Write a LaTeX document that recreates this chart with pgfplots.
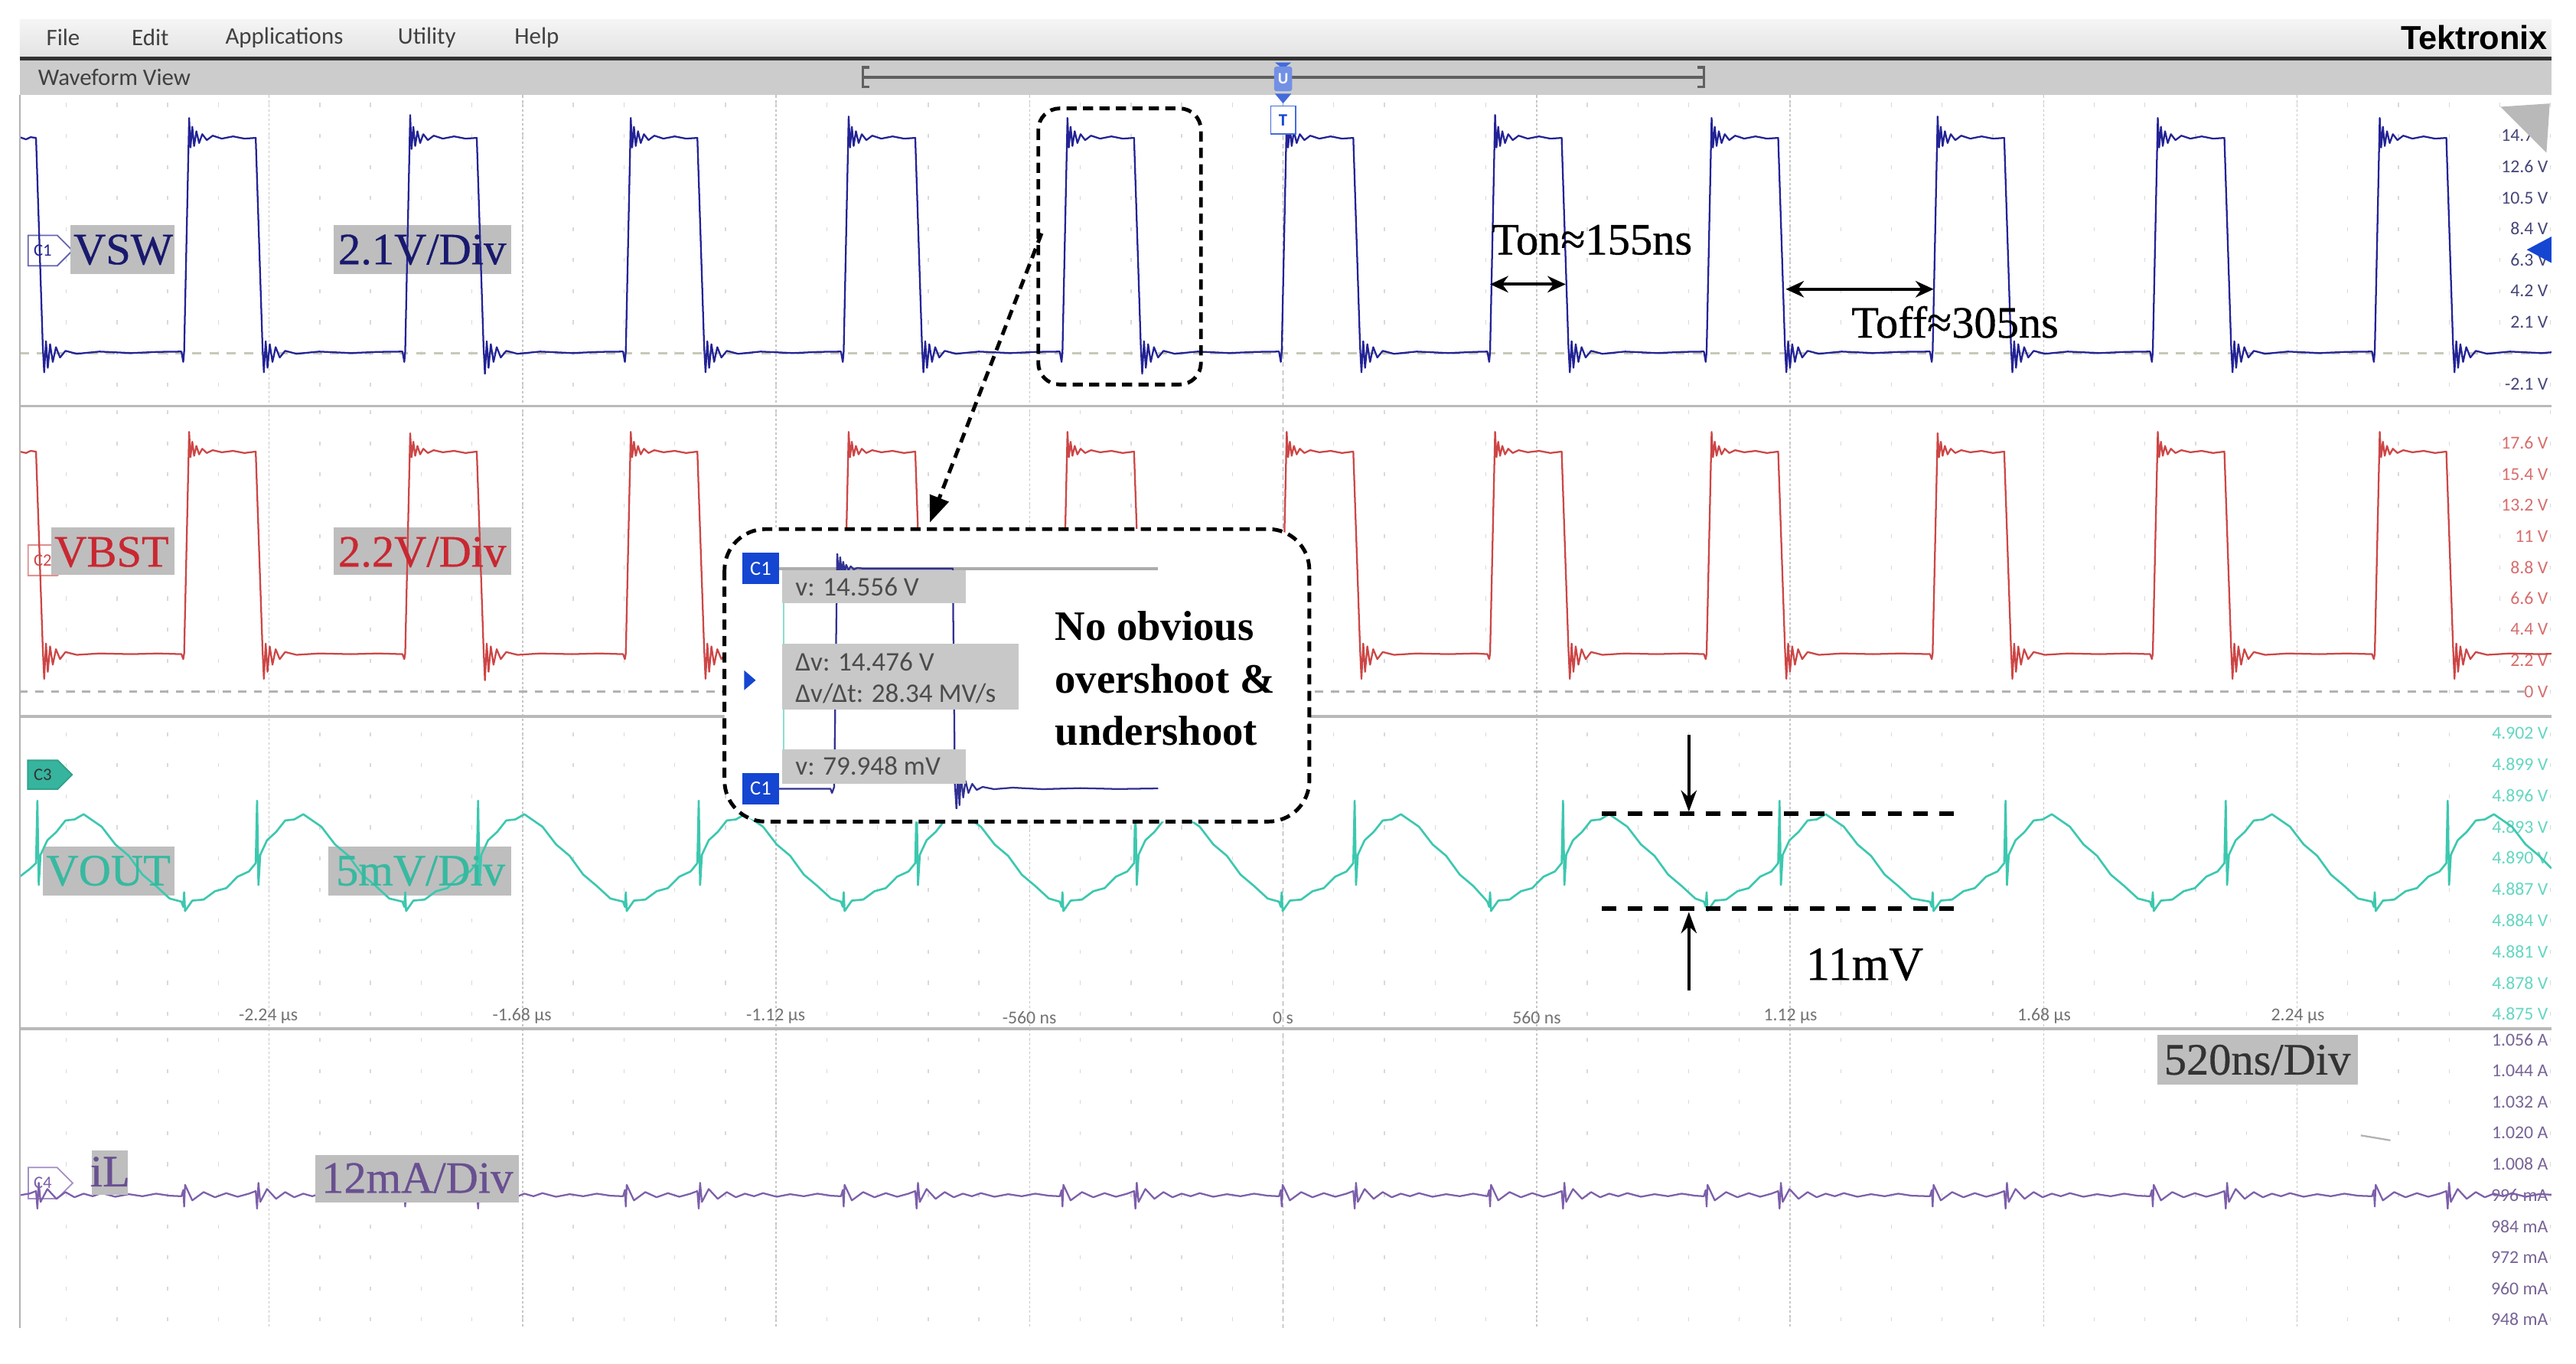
\documentclass[border=0pt]{standalone}
\usepackage{fontspec}
\setmainfont{Liberation Serif}
\newfontfamily\lblserif[FakeBold=0.6]{Liberation Serif}
\newfontfamily\uifont{Carlito}
\newfontfamily\logofont{Liberation Sans}
\usepackage{pgfplots}
\pgfplotsset{compat=1.18}
\usepackage{pgfplotstable}
\usetikzlibrary{arrows.meta,shapes.symbols}

\definecolor{vsw}{RGB}{35,35,150}
\definecolor{vbst}{RGB}{205,70,70}
\definecolor{vout}{RGB}{60,200,175}
\definecolor{ilc}{RGB}{125,95,170}
\definecolor{vswtxt}{RGB}{25,25,110}
\definecolor{vbsttxt}{RGB}{200,40,50}
\definecolor{vouttxt}{RGB}{55,185,160}
\definecolor{iltxt}{RGB}{105,80,145}
\definecolor{vswtick}{RGB}{70,70,120}
\definecolor{vbsttick}{RGB}{215,110,110}
\definecolor{vouttick}{RGB}{100,215,195}
\definecolor{iltick}{RGB}{120,100,150}
\definecolor{lblbox}{RGB}{190,190,190}
\definecolor{viewbar}{RGB}{204,204,204}
\definecolor{tkblue}{RGB}{20,70,210}
\definecolor{zeroln}{RGB}{200,200,185}

\newcommand{\lblfont}{\lblserif\fontsize{15.5}{18}\selectfont}
\newcommand{\tickfont}{\uifont\fontsize{6.3}{7}\selectfont}
\newcommand{\menufont}{\uifont\fontsize{8.2}{9}\selectfont}

% switch node, boost node (time in ns, volts)
\pgfplotstableread[row sep=\\]{
t vsw vbst\\
-2789 14.6 17.0\\ -2775 14.45 16.9\\ -2765 14.6 17.05\\ -2753 14.55 17.0\\
-2738 0.4 3.0\\ -2735 -1.3 0.9\\ -2731 0.8 3.4\\ -2727 -1.0 1.4\\ -2722 0.6 3.2\\ -2716 -0.6 1.9\\
-2709 0.4 3.0\\ -2700 -0.3 2.3\\ -2688 0.15 2.8\\ -2663 -0.05 2.6\\ -2613 0.1 2.7\\ -2543 0.0 2.65\\ -2483 0.08 2.7\\
-2432 0.1 2.65\\ -2428 -0.6 2.3\\ -2426 0.1 2.7\\ -2415 15.9 18.4\\ -2412 13.9 16.6\\ -2408 15.3 17.7\\ -2404 14.0 16.7\\ -2399 15.0 17.4\\ -2393 14.2 16.8\\ -2386 14.8 17.2\\ -2376 14.4 16.9\\ -2363 14.7 17.1\\ -2343 14.5 16.95\\ -2318 14.65 17.05\\ -2293 14.5 16.9\\ -2268 14.55 17.0\\ -2253 0.4 3.0\\ -2250 -1.3 0.9\\ -2246 0.8 3.4\\ -2242 -1.0 1.4\\ -2237 0.6 3.2\\ -2231 -0.6 1.9\\ -2224 0.4 3.0\\ -2215 -0.3 2.3\\ -2203 0.15 2.8\\ -2178 -0.05 2.6\\ -2128 0.1 2.7\\ -2058 0.0 2.65\\ -1998 0.08 2.7\\
-1944 0.1 2.65\\ -1940 -0.6 2.3\\ -1938 0.1 2.7\\ -1927 16.1 18.3\\ -1924 13.8 16.6\\ -1920 15.3 17.7\\ -1916 14.0 16.7\\ -1911 15.0 17.4\\ -1905 14.2 16.8\\ -1898 14.8 17.2\\ -1888 14.4 16.9\\ -1875 14.7 17.1\\ -1855 14.5 16.95\\ -1830 14.65 17.05\\ -1805 14.5 16.9\\ -1780 14.55 17.0\\ -1765 0.4 3.0\\ -1762 -1.4 0.8\\ -1758 0.8 3.4\\ -1754 -1.0 1.4\\ -1749 0.6 3.2\\ -1743 -0.6 1.9\\ -1736 0.4 3.0\\ -1727 -0.3 2.3\\ -1715 0.15 2.8\\ -1690 -0.05 2.6\\ -1640 0.1 2.7\\ -1570 0.0 2.65\\ -1510 0.08 2.7\\
-1457 0.1 2.65\\ -1453 -0.6 2.3\\ -1451 0.1 2.7\\ -1440 15.9 18.4\\ -1437 13.9 16.6\\ -1433 15.3 17.7\\ -1429 14.0 16.7\\ -1424 15.0 17.4\\ -1418 14.2 16.8\\ -1411 14.8 17.2\\ -1401 14.4 16.9\\ -1388 14.7 17.1\\ -1368 14.5 16.95\\ -1343 14.65 17.05\\ -1318 14.5 16.9\\ -1293 14.55 17.0\\ -1278 0.4 3.0\\ -1275 -1.3 0.9\\ -1271 0.8 3.4\\ -1267 -1.0 1.4\\ -1262 0.6 3.2\\ -1256 -0.6 1.9\\ -1249 0.4 3.0\\ -1240 -0.3 2.3\\ -1228 0.15 2.8\\ -1203 -0.05 2.6\\ -1153 0.1 2.7\\ -1083 0.0 2.65\\ -1023 0.08 2.7\\
-976 0.1 2.65\\ -972 -0.6 2.3\\ -970 0.1 2.7\\ -959 16.0 18.4\\ -956 13.9 16.6\\ -952 15.3 17.7\\ -948 14.0 16.7\\ -943 15.0 17.4\\ -937 14.2 16.8\\ -930 14.8 17.2\\ -920 14.4 16.9\\ -907 14.7 17.1\\ -887 14.5 16.95\\ -862 14.65 17.05\\ -837 14.5 16.9\\ -812 14.55 17.0\\ -797 0.4 3.0\\ -794 -1.3 0.9\\ -790 0.8 3.4\\ -786 -1.0 1.4\\ -781 0.6 3.2\\ -775 -0.6 1.9\\ -768 0.4 3.0\\ -759 -0.3 2.3\\ -747 0.15 2.8\\ -722 -0.05 2.6\\ -672 0.1 2.7\\ -602 0.0 2.65\\ -542 0.08 2.7\\
-493 0.1 2.65\\ -489 -0.6 2.3\\ -487 0.1 2.7\\ -476 15.9 18.4\\ -473 13.9 16.6\\ -469 15.3 17.7\\ -465 14.0 16.7\\ -460 15.0 17.4\\ -454 14.2 16.8\\ -447 14.8 17.2\\ -437 14.4 16.9\\ -424 14.7 17.1\\ -404 14.5 16.95\\ -379 14.65 17.05\\ -354 14.5 16.9\\ -329 14.55 17.0\\ -314 0.4 3.0\\ -311 -1.4 0.9\\ -307 0.8 3.4\\ -303 -1.0 1.4\\ -298 0.6 3.2\\ -292 -0.6 1.9\\ -285 0.4 3.0\\ -276 -0.3 2.3\\ -264 0.15 2.8\\ -239 -0.05 2.6\\ -189 0.1 2.7\\ -119 0.0 2.65\\ -59 0.08 2.7\\
-9 0.1 2.65\\ -5 -0.6 2.3\\ -3 0.1 2.7\\ 8 15.9 18.4\\ 11 13.9 16.6\\ 15 15.3 17.7\\ 19 14.0 16.7\\ 24 15.0 17.4\\ 30 14.2 16.8\\ 37 14.8 17.2\\ 47 14.4 16.9\\ 60 14.7 17.1\\ 80 14.5 16.95\\ 105 14.65 17.05\\ 130 14.5 16.9\\ 155 14.55 17.0\\ 170 0.4 3.0\\ 173 -1.3 0.9\\ 177 0.8 3.4\\ 181 -1.0 1.4\\ 186 0.6 3.2\\ 192 -0.6 1.9\\ 199 0.4 3.0\\ 208 -0.3 2.3\\ 220 0.15 2.8\\ 245 -0.05 2.6\\ 295 0.1 2.7\\ 365 0.0 2.65\\ 425 0.08 2.7\\
451 0.1 2.65\\ 455 -0.6 2.3\\ 457 0.1 2.7\\ 468 16.1 18.4\\ 471 13.9 16.6\\ 475 15.3 17.7\\ 479 14.0 16.7\\ 484 15.0 17.4\\ 490 14.2 16.8\\ 497 14.8 17.2\\ 507 14.4 16.9\\ 520 14.7 17.1\\ 540 14.5 16.95\\ 565 14.65 17.05\\ 590 14.5 16.9\\ 615 14.55 17.0\\ 630 0.4 3.0\\ 633 -1.3 0.9\\ 637 0.8 3.4\\ 641 -1.0 1.4\\ 646 0.6 3.2\\ 652 -0.6 1.9\\ 659 0.4 3.0\\ 668 -0.3 2.3\\ 680 0.15 2.8\\ 705 -0.05 2.6\\ 755 0.1 2.7\\ 825 0.0 2.65\\ 885 0.08 2.7\\
929 0.1 2.65\\ 933 -0.6 2.3\\ 935 0.1 2.7\\ 946 15.9 18.4\\ 949 13.9 16.6\\ 953 15.3 17.7\\ 957 14.0 16.7\\ 962 15.0 17.4\\ 968 14.2 16.8\\ 975 14.8 17.2\\ 985 14.4 16.9\\ 998 14.7 17.1\\ 1018 14.5 16.95\\ 1043 14.65 17.05\\ 1068 14.5 16.9\\ 1093 14.55 17.0\\ 1108 0.4 3.0\\ 1111 -1.3 0.9\\ 1115 0.8 3.4\\ 1119 -1.0 1.4\\ 1124 0.6 3.2\\ 1130 -0.6 1.9\\ 1137 0.4 3.0\\ 1146 -0.3 2.3\\ 1158 0.15 2.8\\ 1183 -0.05 2.6\\ 1233 0.1 2.7\\ 1303 0.0 2.65\\ 1363 0.08 2.7\\
1428 0.1 2.65\\ 1432 -0.6 2.3\\ 1434 0.1 2.7\\ 1445 16.0 18.3\\ 1448 13.9 16.6\\ 1452 15.3 17.7\\ 1456 14.0 16.7\\ 1461 15.0 17.4\\ 1467 14.2 16.8\\ 1474 14.8 17.2\\ 1484 14.4 16.9\\ 1497 14.7 17.1\\ 1517 14.5 16.95\\ 1542 14.65 17.05\\ 1567 14.5 16.9\\ 1592 14.55 17.0\\ 1607 0.4 3.0\\ 1610 -1.3 0.9\\ 1614 0.8 3.4\\ 1618 -1.0 1.4\\ 1623 0.6 3.2\\ 1629 -0.6 1.9\\ 1636 0.4 3.0\\ 1645 -0.3 2.3\\ 1657 0.15 2.8\\ 1682 -0.05 2.6\\ 1732 0.1 2.7\\ 1802 0.0 2.65\\ 1862 0.08 2.7\\
1914 0.1 2.65\\ 1918 -0.6 2.3\\ 1920 0.1 2.7\\ 1931 15.9 18.4\\ 1934 13.9 16.6\\ 1938 15.3 17.7\\ 1942 14.0 16.7\\ 1947 15.0 17.4\\ 1953 14.2 16.8\\ 1960 14.8 17.2\\ 1970 14.4 16.9\\ 1983 14.7 17.1\\ 2003 14.5 16.95\\ 2028 14.65 17.05\\ 2053 14.5 16.9\\ 2078 14.55 17.0\\ 2093 0.4 3.0\\ 2096 -1.3 0.9\\ 2100 0.8 3.4\\ 2104 -1.0 1.4\\ 2109 0.6 3.2\\ 2115 -0.6 1.9\\ 2122 0.4 3.0\\ 2131 -0.3 2.3\\ 2143 0.15 2.8\\ 2168 -0.05 2.6\\ 2218 0.1 2.7\\ 2288 0.0 2.65\\ 2348 0.08 2.7\\
2404 0.1 2.65\\ 2408 -0.6 2.3\\ 2410 0.1 2.7\\ 2421 15.9 18.4\\ 2424 13.9 16.6\\ 2428 15.3 17.7\\ 2432 14.0 16.7\\ 2437 15.0 17.4\\ 2443 14.2 16.8\\ 2450 14.8 17.2\\ 2460 14.4 16.9\\ 2473 14.7 17.1\\ 2493 14.5 16.95\\ 2518 14.65 17.05\\ 2543 14.5 16.9\\ 2568 14.55 17.0\\ 2583 0.4 3.0\\ 2586 -1.3 0.9\\ 2590 0.8 3.4\\ 2594 -1.0 1.4\\ 2599 0.6 3.2\\ 2605 -0.6 1.9\\ 2612 0.4 3.0\\ 2621 -0.3 2.3\\ 2633 0.15 2.8\\ 2658 -0.05 2.6\\ 2708 0.1 2.7\\ 2778 0.0 2.65\\ 2800 0.05 2.68\\
}\tabA

% output voltage (V) and inductor current (A)
\pgfplotstableread[row sep=\\]{
t vout il\\
-2789 4.8882 0.9960\\ -2768 4.8889 0.9966\\ -2753 4.8895 0.9976\\ -2750 4.8955 0.9908\\ -2747 4.8874 1.0008\\ -2743 4.8903 0.9934\\
-2728 4.8917 0.9984\\ -2708 4.8925 0.9946\\ -2688 4.8936 0.9972\\ -2668 4.8937 0.9952\\ -2648 4.8942 0.9966\\ -2628 4.8936 0.9956\\
-2608 4.8930 0.9968\\ -2578 4.8913 0.9954\\ -2548 4.8902 0.9964\\ -2518 4.8884 0.9956\\ -2488 4.8873 0.9966\\ -2458 4.8861 0.9958\\
-2432 4.8858 0.9956\\ -2428 4.8853 0.9980\\ -2426 4.8867 0.9916\\ -2424 4.8849 1.0000\\ -2408 4.8859 0.9940\\ -2383 4.8860 0.9972\\ -2358 4.8868 0.9952\\ -2333 4.8871 0.9968\\ -2308 4.8882 0.9954\\ -2283 4.8887 0.9966\\ -2268 4.8895 0.9976\\ -2265 4.8955 0.9908\\ -2262 4.8874 1.0008\\ -2258 4.8903 0.9934\\ -2243 4.8917 0.9984\\ -2223 4.8925 0.9946\\ -2203 4.8936 0.9972\\ -2183 4.8937 0.9952\\ -2163 4.8942 0.9966\\ -2143 4.8936 0.9956\\ -2123 4.8930 0.9968\\ -2093 4.8913 0.9954\\ -2063 4.8902 0.9964\\ -2033 4.8884 0.9956\\ -2003 4.8873 0.9966\\ -1973 4.8861 0.9958\\
-1944 4.8858 0.9956\\ -1940 4.8853 0.9980\\ -1938 4.8867 0.9916\\ -1936 4.8849 1.0000\\ -1920 4.8859 0.9940\\ -1895 4.8860 0.9972\\ -1870 4.8868 0.9952\\ -1845 4.8871 0.9968\\ -1820 4.8882 0.9954\\ -1795 4.8887 0.9966\\ -1780 4.8895 0.9976\\ -1777 4.8955 0.9908\\ -1774 4.8874 1.0008\\ -1770 4.8903 0.9934\\ -1755 4.8917 0.9984\\ -1735 4.8925 0.9946\\ -1715 4.8936 0.9972\\ -1695 4.8937 0.9952\\ -1675 4.8942 0.9966\\ -1655 4.8936 0.9956\\ -1635 4.8930 0.9968\\ -1605 4.8913 0.9954\\ -1575 4.8902 0.9964\\ -1545 4.8884 0.9956\\ -1515 4.8873 0.9966\\ -1485 4.8861 0.9958\\
-1457 4.8858 0.9956\\ -1453 4.8853 0.9980\\ -1451 4.8867 0.9916\\ -1449 4.8849 1.0000\\ -1433 4.8859 0.9940\\ -1408 4.8860 0.9972\\ -1383 4.8868 0.9952\\ -1358 4.8871 0.9968\\ -1333 4.8882 0.9954\\ -1308 4.8887 0.9966\\ -1293 4.8895 0.9976\\ -1290 4.8955 0.9908\\ -1287 4.8874 1.0008\\ -1283 4.8903 0.9934\\ -1268 4.8917 0.9984\\ -1248 4.8925 0.9946\\ -1228 4.8936 0.9972\\ -1208 4.8937 0.9952\\ -1188 4.8942 0.9966\\ -1168 4.8936 0.9956\\ -1148 4.8930 0.9968\\ -1118 4.8913 0.9954\\ -1088 4.8902 0.9964\\ -1058 4.8884 0.9956\\ -1028 4.8873 0.9966\\ -998 4.8861 0.9958\\
-976 4.8858 0.9956\\ -972 4.8853 0.9980\\ -970 4.8867 0.9916\\ -968 4.8849 1.0000\\ -952 4.8859 0.9940\\ -927 4.8860 0.9972\\ -902 4.8868 0.9952\\ -877 4.8871 0.9968\\ -852 4.8882 0.9954\\ -827 4.8887 0.9966\\ -812 4.8895 0.9976\\ -809 4.8955 0.9908\\ -806 4.8874 1.0008\\ -802 4.8903 0.9934\\ -787 4.8917 0.9984\\ -767 4.8925 0.9946\\ -747 4.8936 0.9972\\ -727 4.8937 0.9952\\ -707 4.8942 0.9966\\ -687 4.8936 0.9956\\ -667 4.8930 0.9968\\ -637 4.8913 0.9954\\ -607 4.8902 0.9964\\ -577 4.8884 0.9956\\ -547 4.8873 0.9966\\ -517 4.8861 0.9958\\
-493 4.8858 0.9956\\ -489 4.8853 0.9980\\ -487 4.8867 0.9916\\ -485 4.8849 1.0000\\ -469 4.8859 0.9940\\ -444 4.8860 0.9972\\ -419 4.8868 0.9952\\ -394 4.8871 0.9968\\ -369 4.8882 0.9954\\ -344 4.8887 0.9966\\ -329 4.8895 0.9976\\ -326 4.8955 0.9908\\ -323 4.8874 1.0008\\ -319 4.8903 0.9934\\ -304 4.8917 0.9984\\ -284 4.8925 0.9946\\ -264 4.8936 0.9972\\ -244 4.8937 0.9952\\ -224 4.8942 0.9966\\ -204 4.8936 0.9956\\ -184 4.8930 0.9968\\ -154 4.8913 0.9954\\ -124 4.8902 0.9964\\ -94 4.8884 0.9956\\ -64 4.8873 0.9966\\ -34 4.8861 0.9958\\
-9 4.8858 0.9956\\ -5 4.8853 0.9980\\ -3 4.8867 0.9916\\ -1 4.8849 1.0000\\ 15 4.8859 0.9940\\ 40 4.8860 0.9972\\ 65 4.8868 0.9952\\ 90 4.8871 0.9968\\ 115 4.8882 0.9954\\ 140 4.8887 0.9966\\ 155 4.8895 0.9976\\ 158 4.8955 0.9908\\ 161 4.8874 1.0008\\ 165 4.8903 0.9934\\ 180 4.8917 0.9984\\ 200 4.8925 0.9946\\ 220 4.8936 0.9972\\ 240 4.8937 0.9952\\ 260 4.8942 0.9966\\ 280 4.8936 0.9956\\ 300 4.8930 0.9968\\ 330 4.8913 0.9954\\ 360 4.8902 0.9964\\ 390 4.8884 0.9956\\ 420 4.8873 0.9966\\ 445 4.8861 0.9958\\
451 4.8858 0.9956\\ 455 4.8853 0.9980\\ 457 4.8867 0.9916\\ 459 4.8849 1.0000\\ 475 4.8859 0.9940\\ 500 4.8860 0.9972\\ 525 4.8868 0.9952\\ 550 4.8871 0.9968\\ 575 4.8882 0.9954\\ 600 4.8887 0.9966\\ 615 4.8895 0.9976\\ 618 4.8955 0.9908\\ 621 4.8874 1.0008\\ 625 4.8903 0.9934\\ 640 4.8917 0.9984\\ 660 4.8925 0.9946\\ 680 4.8936 0.9972\\ 700 4.8937 0.9952\\ 720 4.8942 0.9966\\ 740 4.8936 0.9956\\ 760 4.8930 0.9968\\ 790 4.8913 0.9954\\ 820 4.8902 0.9964\\ 850 4.8884 0.9956\\ 880 4.8873 0.9966\\ 910 4.8861 0.9958\\
929 4.8858 0.9956\\ 933 4.8853 0.9980\\ 935 4.8867 0.9916\\ 937 4.8849 1.0000\\ 953 4.8859 0.9940\\ 978 4.8860 0.9972\\ 1003 4.8868 0.9952\\ 1028 4.8871 0.9968\\ 1053 4.8882 0.9954\\ 1078 4.8887 0.9966\\ 1093 4.8895 0.9976\\ 1096 4.8955 0.9908\\ 1099 4.8874 1.0008\\ 1103 4.8903 0.9934\\ 1118 4.8917 0.9984\\ 1138 4.8925 0.9946\\ 1158 4.8936 0.9972\\ 1178 4.8937 0.9952\\ 1198 4.8942 0.9966\\ 1218 4.8936 0.9956\\ 1238 4.8930 0.9968\\ 1268 4.8913 0.9954\\ 1298 4.8902 0.9964\\ 1328 4.8884 0.9956\\ 1358 4.8873 0.9966\\ 1388 4.8861 0.9958\\
1428 4.8858 0.9956\\ 1432 4.8853 0.9980\\ 1434 4.8867 0.9916\\ 1436 4.8849 1.0000\\ 1452 4.8859 0.9940\\ 1477 4.8860 0.9972\\ 1502 4.8868 0.9952\\ 1527 4.8871 0.9968\\ 1552 4.8882 0.9954\\ 1577 4.8887 0.9966\\ 1592 4.8895 0.9976\\ 1595 4.8955 0.9908\\ 1598 4.8874 1.0008\\ 1602 4.8903 0.9934\\ 1617 4.8917 0.9984\\ 1637 4.8925 0.9946\\ 1657 4.8936 0.9972\\ 1677 4.8937 0.9952\\ 1697 4.8942 0.9966\\ 1717 4.8936 0.9956\\ 1737 4.8930 0.9968\\ 1767 4.8913 0.9954\\ 1797 4.8902 0.9964\\ 1827 4.8884 0.9956\\ 1857 4.8873 0.9966\\ 1887 4.8861 0.9958\\
1914 4.8858 0.9956\\ 1918 4.8853 0.9980\\ 1920 4.8867 0.9916\\ 1922 4.8849 1.0000\\ 1938 4.8859 0.9940\\ 1963 4.8860 0.9972\\ 1988 4.8868 0.9952\\ 2013 4.8871 0.9968\\ 2038 4.8882 0.9954\\ 2063 4.8887 0.9966\\ 2078 4.8895 0.9976\\ 2081 4.8955 0.9908\\ 2084 4.8874 1.0008\\ 2088 4.8903 0.9934\\ 2103 4.8917 0.9984\\ 2123 4.8925 0.9946\\ 2143 4.8936 0.9972\\ 2163 4.8937 0.9952\\ 2183 4.8942 0.9966\\ 2203 4.8936 0.9956\\ 2223 4.8930 0.9968\\ 2253 4.8913 0.9954\\ 2283 4.8902 0.9964\\ 2313 4.8884 0.9956\\ 2343 4.8873 0.9966\\ 2373 4.8861 0.9958\\
2404 4.8858 0.9956\\ 2408 4.8853 0.9980\\ 2410 4.8867 0.9916\\ 2412 4.8849 1.0000\\ 2428 4.8859 0.9940\\ 2453 4.8860 0.9972\\ 2478 4.8868 0.9952\\ 2503 4.8871 0.9968\\ 2528 4.8882 0.9954\\ 2553 4.8887 0.9966\\ 2568 4.8895 0.9976\\ 2571 4.8955 0.9908\\ 2574 4.8874 1.0008\\ 2578 4.8903 0.9934\\ 2593 4.8917 0.9984\\ 2613 4.8925 0.9946\\ 2633 4.8936 0.9972\\ 2653 4.8937 0.9952\\ 2673 4.8942 0.9966\\ 2693 4.8936 0.9956\\ 2713 4.8930 0.9968\\ 2743 4.8913 0.9954\\ 2773 4.8902 0.9964\\ 2800 4.8890 0.9962\\
}\tabB

\pgfplotsset{osc/.style={scale only axis, width=308.2mm, xmin=-2789, xmax=2800,
  axis line style={draw=none}, major tick length=0pt, minor tick length=0pt,
  xtick=\empty, yticklabel pos=right,
  yticklabel style={anchor=east, xshift=-0.35mm, font=\tickfont, inner sep=0pt},
  every axis plot/.append style={line join=round}, clip=true}}

\begin{document}
\begin{tikzpicture}
\begin{scope}[x=0.2mm,y=-0.2mm]
\fill[white] (0,0) rectangle (1568,830);
% window bars
\shade[top color=gray!8, bottom color=gray!22] (12,12) rectangle (1553,35);
\fill[black!80] (12,34.5) rectangle (1553,37);
\fill[viewbar] (12,37) rectangle (1553,58);
\node[anchor=west, font=\menufont, text=black!75] at (22,23) {File};
\node[anchor=west, font=\menufont, text=black!75] at (74,23) {Edit};
\node[anchor=west, font=\menufont, text=black!75] at (131,23) {Applications};
\node[anchor=west, font=\menufont, text=black!75] at (236,23) {Utility};
\node[anchor=west, font=\menufont, text=black!75] at (307,23) {Help};
\node[anchor=west, font=\menufont, text=black!75] at (17,47) {Waveform View};
\node[anchor=east, font=\logofont\bfseries\fontsize{11.5}{12}\selectfont] at (1557,23) {Tektronix};
\draw[gray!75!black, line width=1.2pt] (525,47) -- (1037,47);
\draw[gray!75!black, line width=0.8pt] (529,41) -- (525,41) -- (525,53) -- (529,53);
\draw[gray!75!black, line width=0.8pt] (1033,41) -- (1037,41) -- (1037,53) -- (1033,53);
% grid dots
\foreach \k in {-24,...,25} {
  \pgfmathsetmacro\xx{781+\k*30.86}
  \foreach \yy in {63.8,82.7,101.6,120.5,139.4,158.3,177.2,196.1,215,233.9,
                   250.9,269.8,288.7,307.6,326.5,345.4,364.3,383.2,402.1,421,
                   446.9,465.8,484.7,503.6,522.5,541.4,560.3,579.2,598.1,617,
                   632.9,651.8,670.7,689.6,708.5,727.4,746.3,765.2,784.1,803}
    {\draw[gray!30, line width=0.35pt] (\xx,\yy-1.2) -- (\xx,\yy+1.2);}
}
\foreach \k in {-4,-3,-2,-1,1,2,3,4}
  \draw[gray!45, line width=0.4pt, dash pattern=on 0.8pt off 0.8pt] ({781+\k*154.3},58) -- ({781+\k*154.3},808);
\draw[gray!70, line width=0.45pt, dash pattern=on 1.6pt off 1.2pt] (781,58) -- (781,808);
% channel tags
\node[signal, signal to=east, draw=vsw!70, fill=white, line width=0.5pt, minimum width=5.4mm, minimum height=3.7mm, inner sep=0pt, font=\uifont\fontsize{6}{6}\selectfont, text=vsw] at (26,152.5) {C1};
\node[signal, signal to=east, draw=vbst!60, fill=white, line width=0.5pt, minimum width=5.4mm, minimum height=3.7mm, inner sep=0pt, font=\uifont\fontsize{6}{6}\selectfont, text=vbst] at (26,341) {C2};
\node[signal, signal to=east, draw=vout!80!black, fill=vout!90!black, line width=0.5pt, minimum width=5.4mm, minimum height=3.5mm, inner sep=0pt, font=\uifont\fontsize{6}{6}\selectfont, text=black!80] at (26,471.5) {C3};
\node[signal, signal to=east, draw=ilc!70, fill=white, line width=0.5pt, minimum width=5.4mm, minimum height=3.8mm, inner sep=0pt, font=\uifont\fontsize{6}{6}\selectfont, text=ilc] at (26,720) {C4};
% label boxes behind traces
\fill[lblbox] (43,137) rectangle (106,167);
\fill[lblbox] (203,137) rectangle (311,167);
\fill[lblbox] (31,321) rectangle (106,350);
\fill[lblbox] (203,321) rectangle (311,350);
\fill[lblbox] (26,515) rectangle (106,545);
\fill[lblbox] (200,515) rectangle (311,545);
\fill[lblbox] (1313,630) rectangle (1435,660);
\coordinate (A1) at (12,58);
\coordinate (A2) at (12,247);
\coordinate (A3) at (12,436);
\coordinate (A4) at (12,626);
\coordinate (S) at (474,337);
\end{scope}

% C1 VSW
\begin{axis}[osc, at={(A1)}, anchor=north west, height=37.8mm,
  ymin=-3.57, ymax=17.43,
  ytick={-2.1,2.1,4.2,6.3,8.4,10.5,12.6,14.7},
  yticklabels={-2.1 V,2.1 V,4.2 V,6.3 V,8.4 V,10.5 V,12.6 V,14.7 V},
  yticklabel style={text=vswtick}]
\draw[zeroln, line width=0.8pt, dash pattern=on 1.1mm off 1mm] (axis cs:-2789,0) -- (axis cs:2800,0);
\addplot[vsw, line width=0.6pt] table[x=t, y=vsw] {\tabA};
\end{axis}

% C2 VBST
\begin{axis}[osc, at={(A2)}, anchor=north west, height=37.8mm,
  ymin=-1.76, ymax=20.24,
  ytick={0,2.2,4.4,6.6,8.8,11,13.2,15.4,17.6},
  yticklabels={0 V,2.2 V,4.4 V,6.6 V,8.8 V,11 V,13.2 V,15.4 V,17.6 V},
  yticklabel style={text=vbsttick}]
\draw[gray!60, line width=0.6pt, dash pattern=on 1mm off 0.9mm] (axis cs:-2789,0) -- (axis cs:2750,0);
\addplot[vbst, line width=0.6pt] table[x=t, y=vbst] {\tabA};
\end{axis}

% C3 VOUT
\begin{axis}[osc, at={(A3)}, anchor=north west, height=38mm,
  ymin=4.8736, ymax=4.9036,
  ytick={4.875,4.878,4.881,4.884,4.887,4.890,4.893,4.896,4.899,4.902},
  yticklabels={4.875 V,4.878 V,4.881 V,4.884 V,4.887 V,4.890 V,4.893 V,4.896 V,4.899 V,4.902 V},
  yticklabel style={text=vouttick},
  xtick={-2240,-1680,-1120,-560,0,560,1120,1680,2240},
  xticklabels={-2.24 µs,-1.68 µs,-1.12 µs,-560 ns,0 s,560 ns,1.12 µs,1.68 µs,2.24 µs},
  xticklabel style={anchor=south, yshift=0.5mm, font=\tickfont, text=gray!90!black, inner sep=0pt}]
\addplot[vout, line width=0.7pt] table[x=t, y=vout] {\tabB};
\end{axis}

% C4 iL
\begin{axis}[osc, at={(A4)}, anchor=north west, height=36.4mm,
  ymin=0.9448, ymax=1.0604,
  ytick={0.948,0.960,0.972,0.984,0.996,1.008,1.020,1.032,1.044,1.056},
  yticklabels={948 mA,960 mA,972 mA,984 mA,996 mA,1.008 A,1.020 A,1.032 A,1.044 A,1.056 A},
  yticklabel style={text=iltick}]
\addplot[ilc, line width=0.6pt] table[x=t, y=il] {\tabB};
\end{axis}

\begin{scope}[x=0.2mm,y=-0.2mm]
\draw[gray!55, line width=0.9pt] (12,247) -- (1553,247);
\draw[gray!55, line width=0.9pt] (12,436) -- (1553,436);
\draw[gray!55, line width=0.9pt] (12,626) -- (1553,626);
\draw[gray!60, line width=0.5pt] (12,58) -- (12,808);
% markers
\fill[tkblue!80] (776,38) -- (786,38) -- (781,42) -- cycle;
\node[fill=tkblue!60, text=white, font=\uifont\bfseries\fontsize{5.5}{6}\selectfont, minimum width=2.2mm, minimum height=3mm, inner sep=0pt, rounded corners=0.3mm] at (781,48) {U};
\fill[tkblue!80] (776,57) -- (786,57) -- (781,63) -- cycle;
\node[draw=tkblue!80, fill=white, text=tkblue, font=\uifont\bfseries\fontsize{6}{6}\selectfont, minimum width=3mm, minimum height=3.4mm, inner sep=0pt, line width=0.5pt] at (781,73) {T};
\fill[tkblue] (1538,152) -- (1553,144) -- (1553,160) -- cycle;
\fill[gray!55] (1522,65) -- (1552,63) -- (1550,93) -- cycle;
\draw[gray!60, line width=0.6pt] (1437,691) -- (1455,694);
% channel label texts
\node[font=\lblfont, text=vswtxt] at (75,152) {VSW};
\node[font=\lblfont, text=vswtxt] at (257,152) {2.1V/Div};
\node[font=\lblfont, text=vbsttxt] at (68,336) {VBST};
\node[font=\lblfont, text=vbsttxt] at (257,336) {2.2V/Div};
\node[font=\lblfont, text=vouttxt] at (66,530) {VOUT};
\node[font=\lblfont, text=vouttxt] at (256,530) {5mV/Div};
\fill[lblbox] (56,700) rectangle (78,727);
\node[font=\lblfont, text=iltxt] at (67,713) {iL};
\fill[lblbox] (192,703) rectangle (316,732);
\node[font=\lblfont, text=iltxt] at (254,717) {12mA/Div};
\node[font=\lblfont, text=black!80] at (1374,645) {520ns/Div};
% timing annotations
\node[font=\lblfont] at (969,146) {Ton≈155ns};
\draw[{Stealth[length=2.2mm,width=2mm]}-{Stealth[length=2.2mm,width=2mm]}, line width=1pt] (907,173) -- (953,173);
\draw[{Stealth[length=2.2mm,width=2mm]}-{Stealth[length=2.2mm,width=2mm]}, line width=1pt] (1087,176) -- (1177,176);
\node[font=\lblfont] at (1190,196) {Toff≈305ns};
% ripple annotation
\draw[line width=1.6pt, dash pattern=on 5pt off 4pt] (975,495) -- (1193,495);
\draw[line width=1.6pt, dash pattern=on 5pt off 4pt] (975,553) -- (1193,553);
\draw[-{Stealth[length=2.6mm,width=1.9mm]}, line width=1pt] (1028,447) -- (1028,494);
\draw[-{Stealth[length=2.6mm,width=1.9mm]}, line width=1pt] (1028,603) -- (1028,555);
\node[font=\lblserif\fontsize{16.5}{19}\selectfont] at (1135,587) {11mV};
% zoom callout
\draw[line width=1.3pt, dash pattern=on 3.5pt off 2.2pt, rounded corners=2.6mm] (632,66) rectangle (731,234);
\draw[line width=1.3pt, dash pattern=on 3.5pt off 2.2pt, -{Triangle[length=3.2mm,width=2.4mm]}] (634,142) -- (566,318);
\fill[white, rounded corners=5mm] (441,322) rectangle (797,500);
\draw[vout!60, line width=0.5pt] (477,358) -- (477,470);
\end{scope}

% callout waveform (C1 edge)
\begin{axis}[at={(S)}, anchor=north west, scale only axis, width=46.2mm, height=31mm,
  xmin=-72, xmax=434, ymin=-1.216, ymax=15.528, axis lines=none, ticks=none,
  every axis plot/.append style={line join=round}]
\addplot[gray!65, line width=1pt] coordinates {(-72,14.556) (434,14.556)};
\addplot[vsw!85!gray, line width=0.6pt] coordinates {
(-72,0.08) (-3,0.08) (-1,-0.2) (2,0.2) (6,15.6) (8,14.0) (10,15.3) (12,14.2) (14,15.0)
(16,14.3) (18,14.8) (21,14.45) (24,14.7) (28,14.5) (33,14.6) (40,14.556) (160,14.556)
(163,0.3) (165,-1.3) (167,1.2) (169,-1.0) (171,0.9) (174,-0.5) (177,0.6) (181,-0.2)
(186,0.4) (192,0.0) (200,0.2) (215,0.05) (240,0.15) (280,0.05) (330,0.12) (380,0.06) (434,0.1)};
\end{axis}

\begin{scope}[x=0.2mm,y=-0.2mm]
\fill[lblbox!85!white] (476,347) rectangle (588,367);
\fill[lblbox!85!white] (476,392) rectangle (620,432);
\fill[lblbox!85!white] (476,456) rectangle (588,477);
\node[anchor=west, font=\uifont\fontsize{9.3}{10}\selectfont, text=black!70] at (478,357) {v: 14.556 V};
\node[anchor=west, font=\uifont\fontsize{9.3}{10}\selectfont, text=black!70] at (478,403) {Δv: 14.476 V};
\node[anchor=west, font=\uifont\fontsize{9.3}{10}\selectfont, text=black!70] at (478,422) {Δv/Δt: 28.34 MV/s};
\node[anchor=west, font=\uifont\fontsize{9.3}{10}\selectfont, text=black!70] at (478,466) {v: 79.948 mV};
\node[fill=tkblue, text=white, font=\uifont\fontsize{7}{8}\selectfont, minimum width=4.4mm, minimum height=3.8mm, inner sep=0pt] at (463,346) {C1};
\node[fill=tkblue, text=white, font=\uifont\fontsize{7}{8}\selectfont, minimum width=4.4mm, minimum height=3.8mm, inner sep=0pt] at (463,480) {C1};
\fill[tkblue] (453,408) -- (460,414) -- (453,420) -- cycle;
\node[anchor=west, align=left, font=\bfseries\fontsize{14.5}{18.2}\selectfont] at (636,413) {No obvious\\overshoot \&\\undershoot};
\draw[line width=1.3pt, dash pattern=on 3.5pt off 2.2pt, rounded corners=5mm] (441,322) rectangle (797,500);
\end{scope}
\end{tikzpicture}
\end{document}
